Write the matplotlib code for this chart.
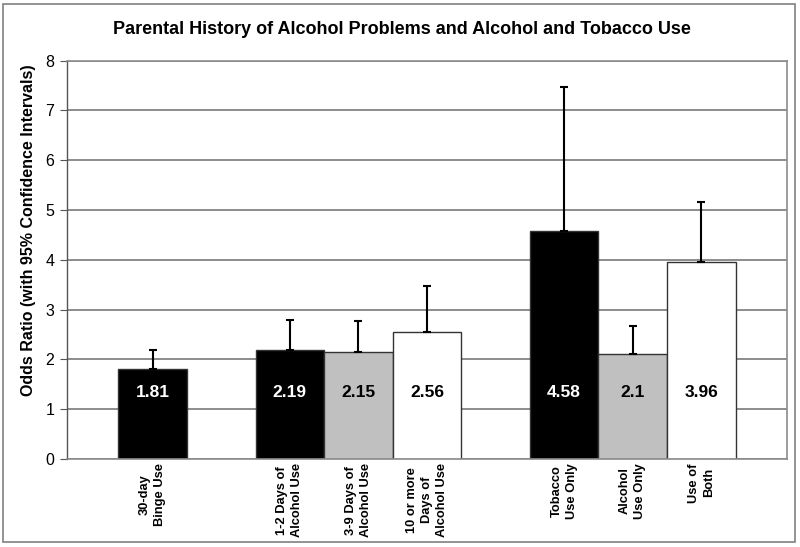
import matplotlib
matplotlib.use("Agg")
import matplotlib.pyplot as plt
from matplotlib.patches import Rectangle
import numpy as np

plt.rcParams['font.family'] = ['Liberation Sans', 'DejaVu Sans']

labels = ["30-day\nBinge Use", "1-2 Days of\nAlcohol Use", "3-9 Days of\nAlcohol Use",
          "10 or more\nDays of\nAlcohol Use", "Tobacco\nUse Only", "Alcohol\nUse Only", "Use of\nBoth"]
values = [1.81, 2.19, 2.15, 2.56, 4.58, 2.1, 3.96]
upper_ci = [2.19, 2.80, 2.77, 3.48, 7.48, 2.68, 5.17]
value_text = ["1.81", "2.19", "2.15", "2.56", "4.58", "2.1", "3.96"]
positions = [1.25, 3.25, 4.25, 5.25, 7.25, 8.25, 9.25]
colors = ["black", "black", "#c0c0c0", "white", "black", "#c0c0c0", "white"]
text_colors = ["white", "white", "black", "black", "white", "black", "black"]

fig = plt.figure(figsize=(8, 5.47), dpi=100)
ax = fig.add_axes([67/800, 1-459/547, 720/800, (459-60.7)/547])

ax.set_xlim(0, 10.5)
ax.set_ylim(0, 8)
ax.set_yticks(range(0, 9))
ax.yaxis.grid(True, color="#8c8c8c", linewidth=1.4)
ax.set_axisbelow(True)

yerr = [np.zeros(len(values)), np.array(upper_ci) - np.array(values)]
ax.bar(positions, values, width=1.0, color=colors, edgecolor="#333333", linewidth=1.0, zorder=2)
ax.errorbar(positions, values, yerr=yerr, fmt="none", ecolor="black", elinewidth=1.5,
            capsize=3, capthick=1.5, zorder=3)

for x, t, c in zip(positions, value_text, text_colors):
    ax.text(x, 1.33, t, ha="center", va="center", color=c, fontsize=12.5, fontweight="bold", zorder=4)

ax.set_xticks(positions)
ax.set_xticklabels(labels, rotation=90, fontsize=9.3, fontweight="bold", ha="center", va="top",
                   multialignment="center", linespacing=1.35)
ax.tick_params(axis="x", length=0, pad=3)
ax.tick_params(axis="y", length=5, color="#555555", labelsize=11.5, pad=4, direction="out")

for s in ["top", "right", "bottom"]:
    ax.spines[s].set_color("#8c8c8c")
    ax.spines[s].set_linewidth(1.2)
ax.spines["left"].set_color("#555555")
ax.spines["left"].set_linewidth(1.0)

fig.text(402/800, 1-30/547, "Parental History of Alcohol Problems and Alcohol and Tobacco Use",
         ha="center", va="center", fontsize=13, fontweight="bold")
fig.text(29/800, 1-230/547, "Odds Ratio (with 95% Confidence Intervals)", rotation=90,
         ha="center", va="center", fontsize=11.5, fontweight="bold")

fig.patches.append(Rectangle((3/800, 1-542/547), 792/800, 538/547, transform=fig.transFigure,
                             fill=False, edgecolor="#808080", linewidth=1.2))

fig.savefig("out.png", dpi=100)
